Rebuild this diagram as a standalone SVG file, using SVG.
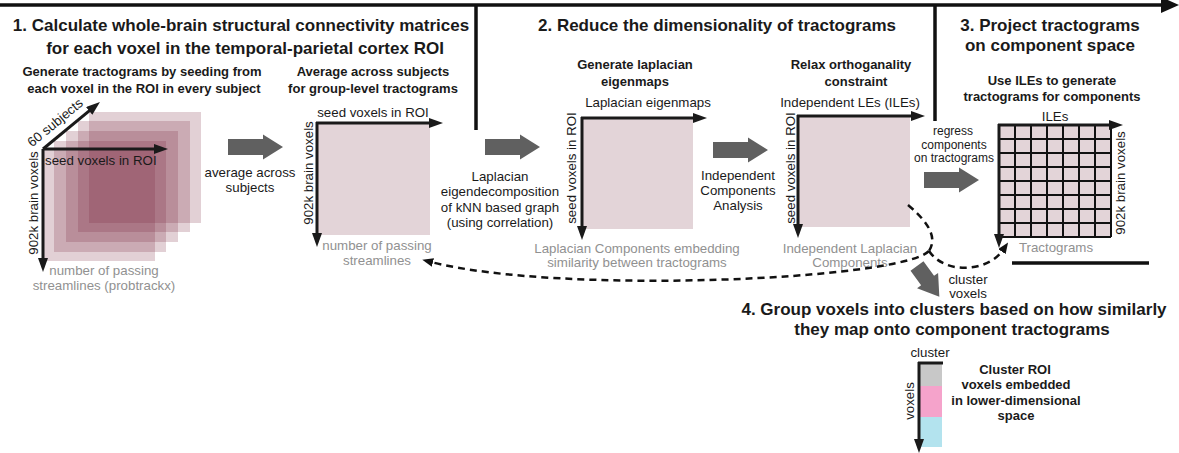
<svg xmlns="http://www.w3.org/2000/svg" width="1179" height="453" viewBox="0 0 1179 453">
<defs>
<style>
text{font-family:"Liberation Sans",Arial,Helvetica,sans-serif;fill:#1a1a1a}
.h1{font-size:17px;font-weight:bold;text-anchor:middle}
.h2{font-size:13px;font-weight:bold;text-anchor:middle}
.t{font-size:13.3px;text-anchor:middle}
.ts{font-size:13.3px}
.g{font-size:13.3px;text-anchor:middle;fill:#919191}
.s{font-size:12px;text-anchor:middle}
.ax{stroke:#1a1a1a;stroke-width:3;fill:none;marker-end:url(#ah)}
.bar{stroke:#111;stroke-width:3.5;fill:none}
.mat{fill:#e3d4d8}
.stk{fill:#7a2a40;fill-opacity:0.22}
.ga{fill:#606060}
.dash{stroke:#111;stroke-width:2.5;stroke-dasharray:7 5;fill:none}
.dh{marker-end:url(#dh)}
.grid line{stroke:#111;stroke-width:2}
</style>
<marker id="ah" markerUnits="userSpaceOnUse" markerWidth="14" markerHeight="10" refX="2" refY="5" orient="auto"><path d="M0,0 L14,5 L0,10 Z" fill="#1a1a1a"/></marker>
<marker id="dh" markerUnits="userSpaceOnUse" markerWidth="11" markerHeight="9" refX="2" refY="4.5" orient="auto"><path d="M0,0 L11,4.5 L0,9 Z" fill="#111"/></marker>
<path id="garrow" d="M0,-8 H35 V-12.5 L55,0 L35,12.5 V8 H0 Z"/>
</defs>

<g id="frame">
<line class="bar" x1="0" y1="5" x2="1165" y2="5"/>
<polygon points="1161,-3 1179,5 1161,13" fill="#111"/>
<line class="bar" x1="476" y1="5" x2="476" y2="130"/>
<line class="bar" x1="935" y1="5" x2="935" y2="121"/>
<line class="bar" x1="1012" y1="263" x2="1149" y2="263"/>
</g>

<g id="title1">
<text class="h1" x="241" y="31">1. Calculate whole-brain structural connectivity matrices</text>
<text class="h1" x="245" y="54">for each voxel in the temporal-parietal cortex ROI</text>
</g>
<g id="title2"><text class="h1" x="717" y="31">2. Reduce the dimensionality of tractograms</text></g>
<g id="title3">
<text class="h1" x="1050" y="31">3. Project tractograms</text>
<text class="h1" x="1050" y="51">on component space</text>
</g>
<g id="title4">
<text class="h1" x="954" y="315">4. Group voxels into clusters based on how similarly</text>
<text class="h1" x="952" y="335">they map onto component tractograms</text>
</g>

<g id="subject-tractograms">
<text class="h2" x="142" y="76">Generate tractograms by seeding from</text>
<text class="h2" x="144" y="93">each voxel in the ROI in every subject</text>
<rect class="stk" x="89" y="112" width="112" height="111"/>
<rect class="stk" x="78" y="121" width="112" height="111"/>
<rect class="stk" x="66" y="131" width="112" height="111"/>
<rect class="stk" x="54" y="141" width="112" height="111"/>
<rect class="stk" x="43" y="150" width="112" height="111"/>
<line class="ax" x1="43" y1="149" x2="43" y2="260"/>
<line class="ax" x1="43" y1="149" x2="156" y2="149"/>
<line class="ax" x1="43" y1="149" x2="90.7" y2="109.6"/>
<text class="t" transform="translate(58,126) rotate(-39.5)">60 subjects</text>
<text class="ts" x="45" y="165">seed voxels in ROI</text>
<text class="t" transform="translate(38,203) rotate(-90)">902k brain voxels</text>
<text class="g" x="104" y="275">number of passing</text>
<text class="g" x="104" y="290">streamlines (probtrackx)</text>
</g>

<g id="group-tractograms">
<text class="h2" x="373" y="76">Average across subjects</text>
<text class="h2" x="373" y="93">for group-level tractograms</text>
<rect class="mat" x="318" y="123" width="112" height="112"/>
<line class="ax" x1="316" y1="123" x2="431" y2="123"/>
<line class="ax" x1="317" y1="122" x2="317" y2="235"/>
<text class="t" x="373" y="117">seed voxels in ROI</text>
<text class="t" transform="translate(313,173) rotate(-90)">902k brain voxels</text>
<text class="g" x="377" y="250">number of passing</text>
<text class="g" x="377" y="265">streamlines</text>
</g>

<g id="laplacian-eigenmaps">
<text class="h2" x="635" y="69">Generate laplacian</text>
<text class="h2" x="635" y="86">eigenmaps</text>
<rect class="mat" x="583" y="118" width="110" height="111"/>
<line class="ax" x1="581" y1="118" x2="695" y2="118"/>
<line class="ax" x1="582" y1="117" x2="582" y2="228"/>
<text class="t" x="648" y="107">Laplacian eigenmaps</text>
<text class="t" transform="translate(576,168) rotate(-90)">seed voxels in ROI</text>
<text class="g" x="637" y="253">Laplacian Components embedding</text>
<text class="g" x="637" y="267">similarity between tractograms</text>
</g>

<g id="independent-les">
<text class="h2" x="851" y="69">Relax orthoganality</text>
<text class="h2" x="856" y="86">constraint</text>
<rect class="mat" x="799" y="116" width="111" height="111"/>
<line class="ax" x1="797" y1="116" x2="913" y2="116"/>
<line class="ax" x1="798" y1="115" x2="798" y2="226"/>
<text class="t" x="850" y="107">Independent LEs (ILEs)</text>
<text class="t" transform="translate(795,168) rotate(-90)">seed voxels in ROI</text>
<text class="g" x="850" y="253">Independent Laplacian</text>
<text class="g" x="850" y="267">Components</text>
</g>

<g id="component-tractograms">
<text class="h2" x="1052" y="85">Use ILEs to generate</text>
<text class="h2" x="1052" y="101">tractograms for components</text>
<text class="t" x="1055" y="121">ILEs</text>
<rect class="mat" x="999" y="125" width="112" height="112"/>
<g class="grid">
<line x1="1015" y1="125" x2="1015" y2="237"/>
<line x1="1031" y1="125" x2="1031" y2="237"/>
<line x1="1047" y1="125" x2="1047" y2="237"/>
<line x1="1063" y1="125" x2="1063" y2="237"/>
<line x1="1079" y1="125" x2="1079" y2="237"/>
<line x1="1095" y1="125" x2="1095" y2="237"/>
<line x1="1111" y1="125" x2="1111" y2="237"/>
<line x1="999" y1="139" x2="1111" y2="139"/>
<line x1="999" y1="153" x2="1111" y2="153"/>
<line x1="999" y1="167" x2="1111" y2="167"/>
<line x1="999" y1="181" x2="1111" y2="181"/>
<line x1="999" y1="195" x2="1111" y2="195"/>
<line x1="999" y1="209" x2="1111" y2="209"/>
<line x1="999" y1="223" x2="1111" y2="223"/>
<line x1="999" y1="237" x2="1111" y2="237"/>
</g>
<line class="ax" x1="998" y1="125" x2="1111" y2="125"/>
<line class="ax" x1="999" y1="124" x2="999" y2="236"/>
<text class="t" transform="translate(1125,183) rotate(-90)">902k brain voxels</text>
<text class="g" x="1056" y="252">Tractograms</text>
</g>

<g id="cluster-embedding">
<text class="t" x="930" y="357">cluster</text>
<rect x="920" y="364" width="22" height="22" fill="#c8c8c8"/>
<rect x="920" y="386" width="22" height="31" fill="#f5a3cb"/>
<rect x="920" y="417" width="22" height="30" fill="#b3e3ee"/>
<line x1="918" y1="363" x2="943" y2="363" stroke="#1a1a1a" stroke-width="3"/>
<line class="ax" x1="919" y1="362" x2="919" y2="441"/>
<text class="t" transform="translate(914,401) rotate(-90)">voxels</text>
<text class="h2" x="1015" y="374">Cluster ROI</text>
<text class="h2" x="1016" y="389">voxels embedded</text>
<text class="h2" x="1016" y="405">in lower-dimensional</text>
<text class="h2" x="1016" y="420">space</text>
</g>

<g id="connectors">
<use href="#garrow" class="ga" x="228" y="147"/>
<text class="t" x="250" y="177">average across</text>
<text class="t" x="250" y="192">subjects</text>

<use href="#garrow" class="ga" x="485" y="147"/>
<text class="t" x="500" y="181">Laplacian</text>
<text class="t" x="500" y="196">eigendecomposition</text>
<text class="t" x="500" y="212">of kNN based graph</text>
<text class="t" x="500" y="227">(using correlation)</text>

<use href="#garrow" class="ga" x="713" y="150"/>
<text class="t" x="738" y="180">Independent</text>
<text class="t" x="738" y="195">Components</text>
<text class="t" x="738" y="210">Analysis</text>

<use href="#garrow" class="ga" x="924" y="180"/>
<text class="s" x="953" y="135">regress</text>
<text class="s" x="954" y="149">components</text>
<text class="s" x="954" y="162">on tractograms</text>

<path class="ga" transform="translate(917,266) rotate(54)" d="M0,-8 H18 V-13 L38,0 L18,13 V8 H0 Z"/>
<text class="t" x="968" y="284">cluster</text>
<text class="t" x="968" y="298">voxels</text>

<path class="dash" d="M908,205 C933,226 936,240 929,251"/>
<path class="dash dh" d="M929,251 C900,280 560,295 431,262"/>
<path class="dash dh" d="M929,251 C945,275 988,272 1003,250"/>
</g>
</svg>
